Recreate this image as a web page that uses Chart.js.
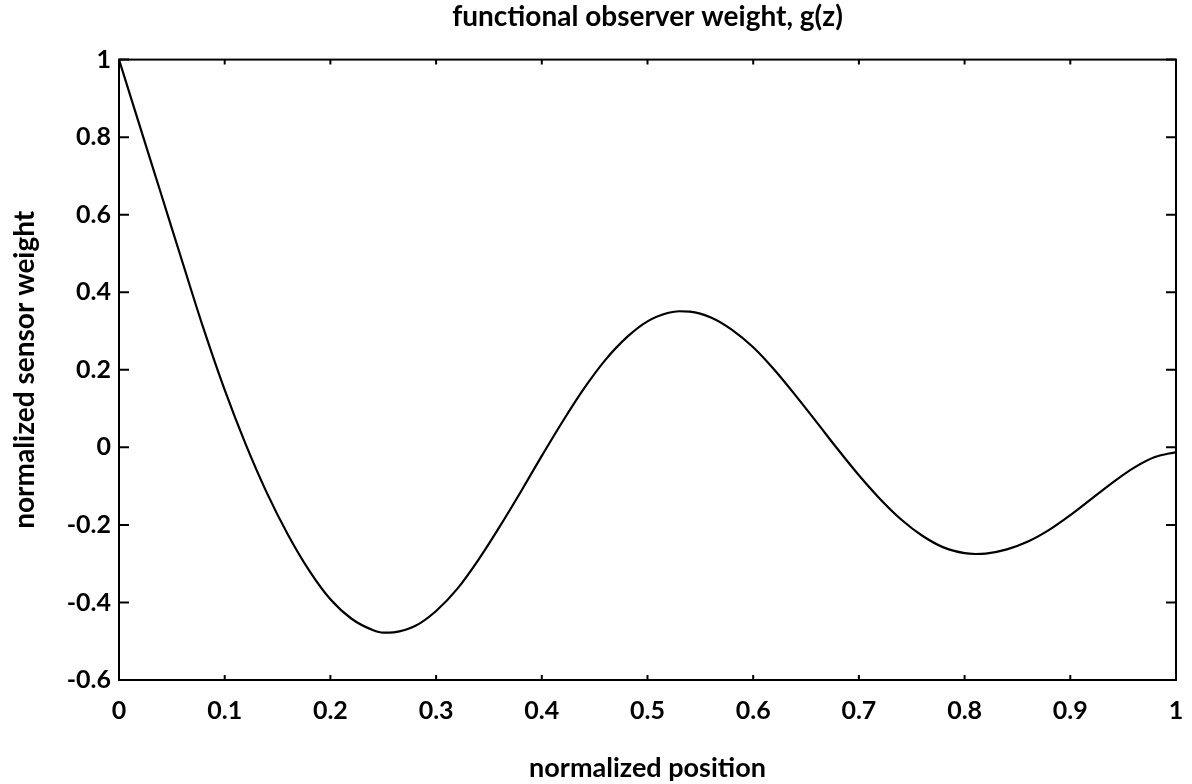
<!DOCTYPE html>
<html>
<head>
<meta charset="utf-8">
<title>functional observer weight</title>
<script src="https://cdn.jsdelivr.net/npm/chart.js@4"></script>
<style>
  html, body { margin: 0; padding: 0; background: #fff; }
  #wrap { width: 1192px; height: 784px; }
</style>
</head>
<body>
<div id="wrap"><canvas id="chart" width="1192" height="784"></canvas></div>
<script>
// values
const positions = [
  0, 0.02, 0.04, 0.06, 0.08, 0.10, 0.12, 0.14, 0.16, 0.18,
  0.20, 0.22, 0.24, 0.25, 0.26, 0.28, 0.30, 0.32, 0.34, 0.36,
  0.38, 0.40, 0.42, 0.44, 0.46, 0.48, 0.50, 0.52, 0.53, 0.54,
  0.56, 0.58, 0.60, 0.62, 0.64, 0.66, 0.68, 0.70, 0.72, 0.74,
  0.76, 0.78, 0.80, 0.81, 0.82, 0.84, 0.86, 0.88, 0.90, 0.92,
  0.94, 0.96, 0.98, 1.00
];
const weights = [
  1.0, 0.826, 0.652, 0.478, 0.306, 0.148, 0.007, -0.118, -0.226, -0.318,
  -0.392, -0.442, -0.471, -0.478, -0.477, -0.461, -0.422, -0.365, -0.29, -0.205,
  -0.115, -0.022, 0.068, 0.152, 0.225, 0.283, 0.325, 0.347, 0.351, 0.35,
  0.335, 0.303, 0.258, 0.2, 0.134, 0.065, -0.005, -0.072, -0.133, -0.186,
  -0.228, -0.258, -0.273, -0.275, -0.274, -0.263, -0.243, -0.213, -0.175, -0.133,
  -0.091, -0.053, -0.025, -0.012
];

const xTickValues = [0, 0.1, 0.2, 0.3, 0.4, 0.5, 0.6, 0.7, 0.8, 0.9, 1];
const xTickLabels = ["0", "0.1", "0.2", "0.3", "0.4", "0.5", "0.6", "0.7", "0.8", "0.9", "1"];
const yTickValues = [-0.6, -0.4, -0.2, 0, 0.2, 0.4, 0.6, 0.8, 1];
const yTickLabels = ["-0.6", "-0.4", "-0.2", "0", "0.2", "0.4", "0.6", "0.8", "1"];

const textFont = "Lato, 'Open Sans', sans-serif";

// box frame plus inward tick marks on all four sides
const frameTicks = {
  id: "frameTicks",
  afterDraw(chart) {
    const { ctx, chartArea: a, scales } = chart;
    ctx.save();
    ctx.strokeStyle = "#000";
    ctx.lineWidth = 2;
    ctx.strokeRect(a.left, a.top, a.right - a.left, a.bottom - a.top);
    ctx.beginPath();
    xTickValues.forEach((v) => {
      const px = scales.x.getPixelForValue(v);
      ctx.moveTo(px, a.bottom); ctx.lineTo(px, a.bottom - 5);
      ctx.moveTo(px, a.top); ctx.lineTo(px, a.top + 5);
    });
    yTickValues.forEach((v) => {
      const py = scales.y.getPixelForValue(v);
      ctx.moveTo(a.left, py); ctx.lineTo(a.left + 10, py);
      ctx.moveTo(a.right, py); ctx.lineTo(a.right - 10, py);
    });
    ctx.stroke();
    ctx.restore();
  }
};

new Chart(document.getElementById("chart"), {
  type: "line",
  data: {
    datasets: [{
      label: "g(z)",
      data: positions.map((p, i) => ({ x: p, y: weights[i] })),
      borderColor: "#000",
      borderWidth: 2.2,
      pointRadius: 0,
      fill: false,
      cubicInterpolationMode: "monotone"
    }]
  },
  options: {
    responsive: false,
    animation: false,
    layout: { padding: { left: 0, right: 16, top: 0, bottom: 0 } },
    plugins: {
      legend: { display: false },
      tooltip: { enabled: false },
      title: {
        display: true,
        text: "functional observer weight, g(z)",
        color: "#000",
        fullSize: false,
        font: { family: textFont, size: 28, weight: "bold" },
        padding: { top: 0, bottom: 26 }
      }
    },
    scales: {
      x: {
        type: "linear",
        min: 0,
        max: 1,
        afterBuildTicks: (s) => { s.ticks = xTickValues.map((v) => ({ value: v })); },
        afterFit: (s) => { s.height = 104; s.paddingLeft = 0; s.paddingRight = 0; },
        ticks: {
          color: "#000",
          autoSkip: false,
          maxRotation: 0,
          padding: 16,
          font: { family: textFont, size: 25, weight: "bold" },
          callback: (v, i) => xTickLabels[i]
        },
        grid: { display: false, drawTicks: false },
        border: { display: false },
        title: {
          display: true,
          text: "normalized position",
          color: "#000",
          font: { family: textFont, size: 27, weight: "bold" },
          padding: { top: 0, bottom: 0 }
        }
      },
      y: {
        min: -0.6,
        max: 1,
        afterBuildTicks: (s) => { s.ticks = yTickValues.map((v) => ({ value: v })); },
        afterFit: (s) => { s.width = 119; },
        ticks: {
          color: "#000",
          autoSkip: false,
          padding: 8,
          font: { family: textFont, size: 25, weight: "bold" },
          callback: (v, i) => yTickLabels[i]
        },
        grid: { display: false, drawTicks: false },
        border: { display: false },
        title: {
          display: true,
          text: "normalized sensor weight",
          color: "#000",
          font: { family: textFont, size: 28, weight: "bold" },
          padding: { top: 8, bottom: 0 }
        }
      }
    }
  },
  plugins: [frameTicks]
});
</script>
</body>
</html>
